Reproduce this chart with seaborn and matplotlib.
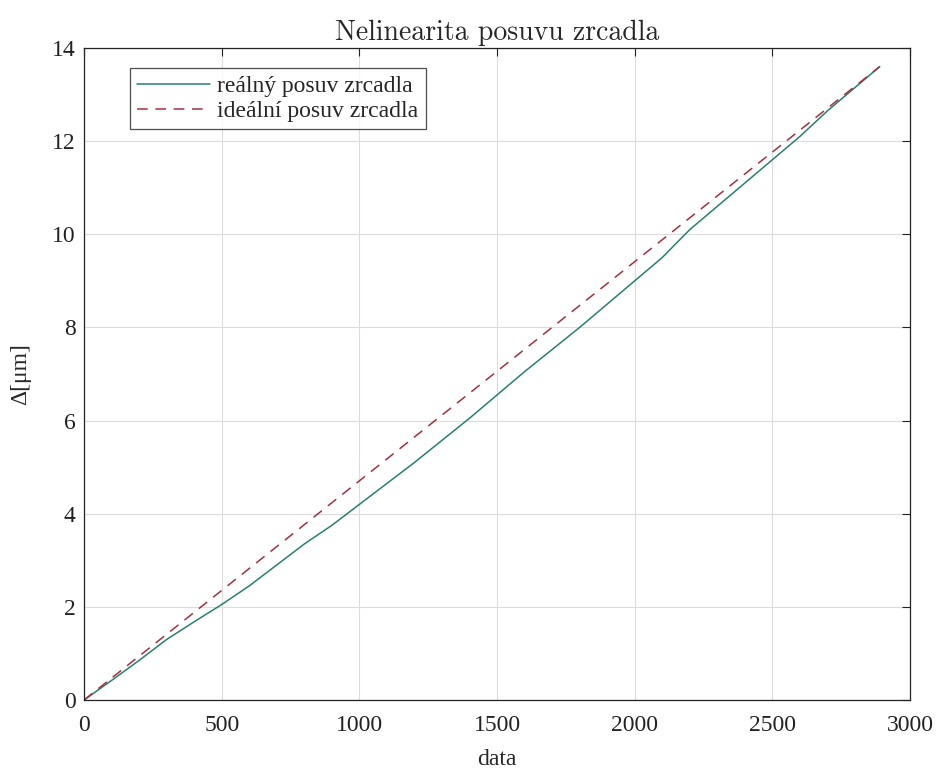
import numpy as np
import pandas as pd
import matplotlib
matplotlib.use("Agg")
import matplotlib.pyplot as plt
import seaborn as sns

# reálný posuv zrcadla
x_real = [0, 100, 200, 300, 400, 500, 600, 700, 800, 900, 1000, 1200, 1400,
          1500, 1600, 1800, 2000, 2100, 2200, 2300, 2400, 2500, 2600, 2700,
          2800, 2890]
y_real = [0, 0.42, 0.85, 1.3, 1.68, 2.05, 2.45, 2.9, 3.35, 3.75, 4.2, 5.1,
          6.05, 6.55, 7.05, 8.0, 9.0, 9.5, 10.1, 10.6, 11.1, 11.6, 12.1,
          12.65, 13.15, 13.6]
# ideální posuv zrcadla - přímka
x_ideal = [0, 2890]
y_ideal = [0, 13.6]

df_real = pd.DataFrame({'data': x_real, 'posuv': y_real})
df_ideal = pd.DataFrame({'data': x_ideal, 'posuv': y_ideal})

sns.set_style('white')
plt.rcParams['font.family'] = ['Liberation Serif', 'DejaVu Serif']

fig = plt.figure(figsize=(9.4, 7.74), dpi=100)
ax = fig.add_axes([0.0894, 0.0956, 0.8787, 0.8424])

sns.lineplot(data=df_real, x='data', y='posuv', ax=ax, color='#27806f',
             linewidth=1.1, label='reálný posuv zrcadla')
sns.lineplot(data=df_ideal, x='data', y='posuv', ax=ax, color='#a3303f',
             linewidth=1.1, linestyle=(0, (7, 5)), label='ideální posuv zrcadla')

ax.set_xlim(0, 3000)
ax.set_ylim(0, 14)
ax.set_xticks(np.arange(0, 3001, 500))
ax.set_yticks(np.arange(0, 15, 2))
ax.grid(True, color='#dcdcdc', linewidth=0.8)
ax.set_axisbelow(True)
ax.tick_params(direction='in', top=True, right=True, length=6, width=0.8,
               labelsize=17, colors='#222222')
ax.tick_params(axis='x', pad=11)
ax.tick_params(axis='y', pad=6)
for s in ax.spines.values():
    s.set_color('#222222')
    s.set_linewidth(0.9)

ax.set_xlabel('data', fontsize=17, labelpad=9)
ax.set_ylabel('Δ[μm]', fontsize=17, labelpad=15)
ax.set_title('Nelinearita posuvu zrcadla', fontsize=20, family='cmr10', pad=6)

leg = ax.legend(loc='upper left', bbox_to_anchor=(0.0557, 0.969), fontsize=17,
                frameon=True, fancybox=False, edgecolor='#222222',
                handlelength=3.1, handletextpad=0.3, borderpad=0.3,
                labelspacing=0.15, borderaxespad=0)
leg.get_frame().set_linewidth(0.9)

fig.savefig('out.png', dpi=100)
